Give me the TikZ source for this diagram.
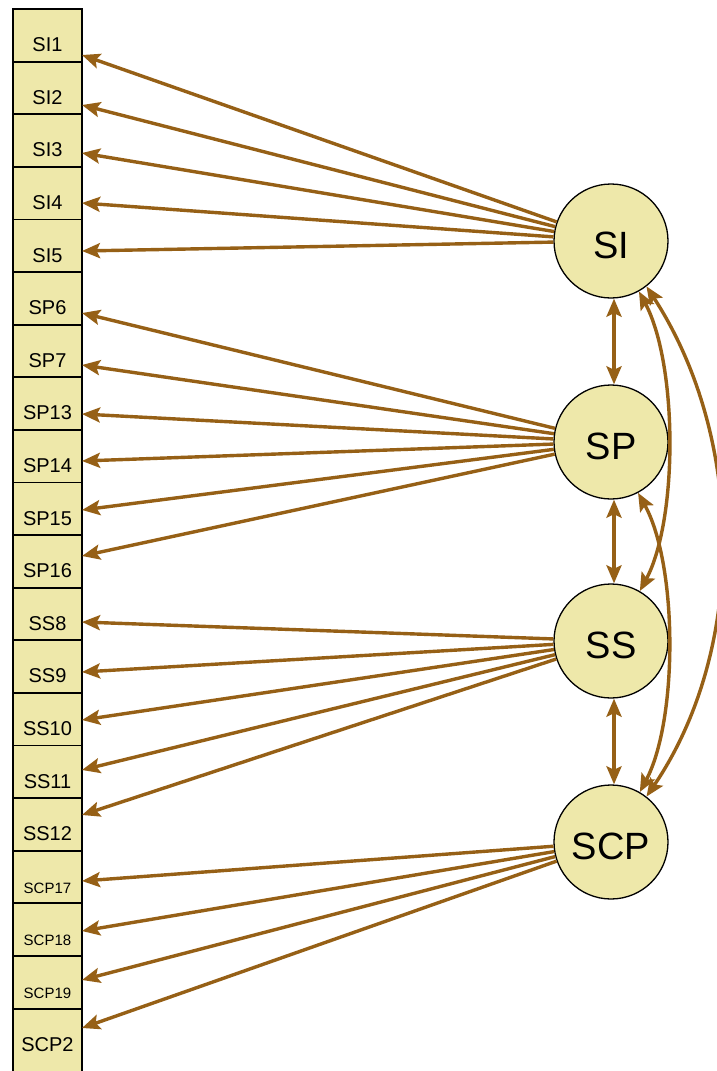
\documentclass[tikz,border=0pt]{standalone}
\usepackage{fontspec}
\setmainfont{Liberation Sans}
\usetikzlibrary{arrows.meta}
\definecolor{pathbrown}{RGB}{150,96,22}
\definecolor{varfill}{RGB}{238,232,170}
\begin{document}
\begin{tikzpicture}[x=1pt,y=-1pt,
  obs/.style={draw=black, line width=1.8pt, fill=varfill, minimum width=69pt,
    inner sep=0pt, text height=42.6pt, text depth=10pt},
  lat/.style={circle, draw=black, line width=1.3pt, fill=varfill, minimum size=114pt,
    inner sep=0pt, font=\fontsize{38}{38}\selectfont, text height=34pt, text depth=0pt},
  load/.style={draw=pathbrown, line width=3.4pt, -{Stealth[length=18pt, width=15pt, inset=3.5pt]}},
  cov/.style={draw=pathbrown, line width=3.4pt,
    {Stealth[length=18pt, width=15pt, inset=3.5pt]}-{Stealth[length=18pt, width=15pt, inset=3.5pt]}}]

\useasboundingbox (0,0) rectangle (717,1071);
\clip (0,0) rectangle (717,1071);
\fill[white] (0,0) rectangle (717,1071);

% observed indicators
\foreach \lab/\fs [count=\i from 0] in {SI1/20,SI2/20,SI3/20,SI4/20,SI5/20,
    SP6/20,SP7/20,SP13/20,SP14/20,SP15/20,SP16/20,
    SS8/20,SS9/20,SS10/20,SS11/20,SS12/20,
    SCP17/15,SCP18/15,SCP19/15}{
  \node[obs, font=\fontsize{\fs}{\fs}\selectfont] (b\i) at (47.5,{35.3+52.6*\i}) {\lab};
}
\node[obs, font=\fontsize{20}{20}\selectfont, text depth=40pt, anchor=north] (b19) at (47.5,{9+52.6*19}) {SCP2};

% latent factors
\node[lat] (SI)  at (611,241) {SI};
\node[lat] (SP)  at (611,442) {SP};
\node[lat] (SS)  at (611,641) {SS};
\node[lat] (SCP) at (611,842) {SCP};

% arrow ends on the indicator boxes
\foreach \i/\ty in {0/55,1/105,2/153,3/203,4/251,
    5/313,6/365,7/414,8/461,9/510,10/556,
    11/622,12/672,13/720,14/770,15/815,
    16/881,17/931,18/980,19/1028}{
  \coordinate (t\i) at (82,\ty);
}

% factor loadings
\foreach \i in {0,...,4}   {\draw[load] (SI)  -- (t\i);}
\foreach \i in {5,...,10}  {\draw[load] (SP)  -- (t\i);}
\foreach \i in {11,...,15} {\draw[load] (SS)  -- (t\i);}
\foreach \i in {16,...,19} {\draw[load] (SCP) -- (t\i);}

% factor covariances
\draw[cov] ([xshift=3pt]SI.south) -- ([xshift=3pt]SP.north);
\draw[cov] ([xshift=3pt]SP.south) -- ([xshift=3pt]SS.north);
\draw[cov] ([xshift=3pt]SS.south) -- ([xshift=3pt]SCP.north);
\draw[cov] (SI.-61) .. controls (678,365) and (678,520) .. (SS.60);
\draw[cov] (SP.-62) .. controls (678,565) and (678,720) .. (SCP.60);
\draw[cov] (SI.-52) .. controls (746,440) and (746,650) .. (SCP.52);
\end{tikzpicture}
\end{document}
